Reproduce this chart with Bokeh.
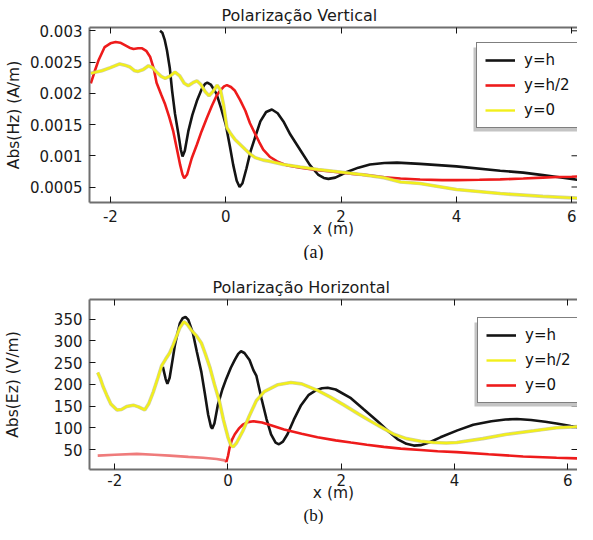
import numpy as np
from bokeh.plotting import figure
from bokeh.models import Range1d, LinearAxis, FixedTicker, Legend, LegendItem, Title, BoxAnnotation
from bokeh.layouts import column
from bokeh.embed import file_html
from bokeh.resources import INLINE

# ---------------- Panel (a): Polarização Vertical ----------------
a_title = "Polarização Vertical"
a_caption = "(a)"
a_ylabel = "Abs(Hz) (A/m)"
a_xlabel = "x (m)"
a_xticks = [-2, 0, 2, 4, 6]
a_xtick_labels = ["-2", "0", "2", "4", "6"]
a_yticks = [0.0005, 0.001, 0.0015, 0.002, 0.0025, 0.003]
a_ytick_labels = ["0.0005", "0.001", "0.0015", "0.002", "0.0025", "0.003"]
a_series = ["y=h", "y=h/2", "y=0"]

hz_h_x = [-1.14, -1.10, -1.06, -1.02, -0.97, -0.93, -0.88, -0.82, -0.78, -0.75, -0.71, -0.65,
          -0.58, -0.50, -0.42, -0.36, -0.32, -0.26, -0.16, -0.08, 0.00, 0.07, 0.13, 0.19, 0.24,
          0.29, 0.36, 0.43, 0.51, 0.60, 0.70, 0.80, 0.90, 1.00, 1.12, 1.30, 1.46, 1.60, 1.70,
          1.78, 1.90, 2.10, 2.30, 2.50, 2.75, 2.97, 3.37, 4.00, 4.76, 5.16, 5.50, 5.75, 6.00, 6.35]
hz_h_y = [0.00300, 0.00297, 0.00286, 0.00269, 0.00240, 0.00204, 0.00167, 0.00134, 0.00110,
          0.00099, 0.00108, 0.00139, 0.00165, 0.00188, 0.00206, 0.00215, 0.00217, 0.00214,
          0.00199, 0.00176, 0.00150, 0.00116, 0.00085, 0.00060, 0.00050, 0.00056, 0.00080,
          0.00107, 0.00130, 0.00155, 0.00170, 0.00174, 0.00168, 0.00155, 0.00134, 0.00108,
          0.00085, 0.00070, 0.000645, 0.00063, 0.00065, 0.00074, 0.00081, 0.00086, 0.000885,
          0.00089, 0.00087, 0.00083, 0.00076, 0.00073, 0.00069, 0.00066, 0.00063, 0.00058]

hz_h2_x = [-2.34, -2.27, -2.21, -2.10, -2.00, -1.91, -1.83, -1.75, -1.67, -1.60, -1.52, -1.45,
           -1.38, -1.31, -1.25, -1.20, -1.12, -1.05, -0.98, -0.91, -0.85, -0.79, -0.75, -0.72,
           -0.67, -0.59, -0.50, -0.42, -0.33, -0.24, -0.16, -0.10, -0.03, 0.02, 0.09, 0.16,
           0.25, 0.34, 0.42, 0.51, 0.58, 0.65, 0.77, 0.89, 1.05, 1.29, 1.60, 1.87, 2.20, 2.45,
           2.75, 3.03, 3.37, 3.75, 4.00, 4.40, 4.76, 5.16, 5.50, 5.75, 6.00, 6.35]
hz_h2_y = [0.00216, 0.00236, 0.00252, 0.00274, 0.00280, 0.00282, 0.00281, 0.00277, 0.00273,
           0.00271, 0.00272, 0.00272, 0.00268, 0.00258, 0.00240, 0.00217, 0.00198, 0.00182,
           0.00162, 0.00139, 0.00112, 0.00085, 0.00070, 0.00064, 0.00070, 0.00096, 0.00118,
           0.00139, 0.00160, 0.00180, 0.00196, 0.00204, 0.00211, 0.00213, 0.00210, 0.00204,
           0.00189, 0.00172, 0.00152, 0.00135, 0.00122, 0.00110, 0.00098, 0.00091, 0.00085,
           0.00081, 0.00077, 0.000744, 0.00071, 0.00069, 0.000655, 0.000635, 0.00062, 0.00061,
           0.00061, 0.000615, 0.000622, 0.000635, 0.00065, 0.00066, 0.000665, 0.000675]

hz_0_x = [-2.34, -2.25, -2.15, -2.00, -1.84, -1.75, -1.66, -1.58, -1.52, -1.43, -1.34, -1.27,
          -1.20, -1.12, -1.05, -0.96, -0.88, -0.80, -0.72, -0.65, -0.57, -0.50, -0.43, -0.36,
          -0.29, -0.22, -0.15, -0.09, -0.04, 0.02, 0.08, 0.16, 0.25, 0.34, 0.42, 0.51, 0.65,
          0.77, 1.00, 1.29, 1.60, 1.98, 2.35, 2.74, 3.03, 3.37, 4.00, 4.76, 5.50, 6.35]
hz_0_y = [0.00232, 0.00234, 0.00236, 0.00241, 0.00247, 0.00245, 0.00242, 0.00236, 0.00235,
          0.00238, 0.00244, 0.00241, 0.00234, 0.00227, 0.00224, 0.00228, 0.00234, 0.00228,
          0.00216, 0.00212, 0.00217, 0.00220, 0.00214, 0.00203, 0.00196, 0.00203, 0.00213,
          0.00205, 0.00182, 0.00145, 0.00136, 0.00126, 0.00118, 0.00110, 0.00103, 0.00097,
          0.00093, 0.00091, 0.00086, 0.00082, 0.00078, 0.00074, 0.00070, 0.00065, 0.00058,
          0.000556, 0.00046, 0.000395, 0.00035, 0.00031]

# ---------------- Panel (b): Polarização Horizontal ----------------
b_title = "Polarização Horizontal"
b_caption = "(b)"
b_ylabel = "Abs(Ez) (V/m)"
b_xlabel = "x (m)"
b_xticks = [-2, 0, 2, 4, 6]
b_xtick_labels = ["-2", "0", "2", "4", "6"]
b_yticks = [50, 100, 150, 200, 250, 300, 350]
b_ytick_labels = ["50", "100", "150", "200", "250", "300", "350"]
b_series = ["y=h", "y=h/2", "y=0"]

ez_h_x = [-1.15, -1.10, -1.07, -1.03, -0.98, -0.94, -0.89, -0.85, -0.80, -0.75, -0.70, -0.62,
          -0.55, -0.47, -0.41, -0.35, -0.30, -0.28, -0.24, -0.18, -0.10, -0.03, 0.05, 0.12,
          0.18, 0.23, 0.29, 0.38, 0.45, 0.50, 0.59, 0.68, 0.76, 0.84, 0.90, 0.97, 1.05, 1.16,
          1.29, 1.42, 1.55, 1.66, 1.76, 1.90, 2.17, 2.40, 2.64, 2.83, 2.99, 3.15, 3.28, 3.40,
          3.55, 3.75, 4.05, 4.33, 4.65, 4.90, 5.10, 5.35, 5.60, 5.80, 6.05, 6.33]
ez_h_y = [240, 212, 201, 215, 255, 288, 318, 340, 352, 355, 348, 318, 275, 228, 180, 130, 102,
          98, 110, 152, 188, 213, 238, 256, 270, 276, 272, 256, 232, 220, 168, 120, 85, 66, 62,
          68, 85, 118, 152, 175, 186, 191, 192, 188, 168, 142, 115, 92, 74, 63, 59, 60, 66, 78,
          94, 107, 115, 119, 120, 118, 114, 110, 104, 98]

ez_h2_x = [-2.30, -2.25, -2.20, -2.14, -2.07, -1.96, -1.88, -1.79, -1.67, -1.58, -1.47, -1.40,
           -1.32, -1.24, -1.17, -1.10, -1.03, -0.97, -0.91, -0.85, -0.78, -0.72, -0.65, -0.56,
           -0.47, -0.40, -0.32, -0.24, -0.15, -0.08, 0.00, 0.05, 0.09, 0.15, 0.26, 0.38, 0.50,
           0.64, 0.88, 1.11, 1.30, 1.58, 1.80, 2.05, 2.30, 2.52, 2.75, 2.93, 3.15, 3.40, 3.63,
           3.85, 4.04, 4.50, 4.92, 5.40, 5.80, 6.10, 6.33]
ez_h2_y = [227, 212, 193, 175, 155, 141, 142, 149, 152, 148, 141, 155, 182, 214, 243, 258, 272,
           290, 310, 330, 344, 338, 325, 312, 295, 270, 239, 200, 160, 118, 78, 60, 56, 65, 92,
           128, 162, 183, 199, 204, 201, 186, 171, 152, 132, 115, 98, 85, 75, 69, 66, 65, 66,
           75, 85, 93, 100, 102, 104]

ez_0_x = [-2.30, -2.00, -1.61, -1.30, -1.03, -0.70, -0.44, -0.20, -0.06, -0.03, 0.00, 0.03,
          0.07, 0.12, 0.19, 0.26, 0.35, 0.45, 0.60, 0.80, 0.99, 1.30, 1.58, 1.90, 2.17, 2.45,
          2.75, 3.05, 3.40, 3.70, 4.04, 4.60, 5.21, 5.80, 6.33]
ez_0_y = [36, 38, 40, 38, 36, 33, 31, 28, 25, 21, 35, 55, 72, 85, 98, 107, 113, 115, 112, 104,
          96, 86, 78, 71, 66, 61, 56, 52, 49, 46, 44, 39, 34, 31, 29]

# ---------------- styling ----------------
FONT = "DejaVu Sans"
SERIF = "Liberation Serif"
C_BLACK = "#141414"
C_RED = "#ee1b1b"
C_PINK = "#ef7b7b"
C_YELLOW = "#f2ef1c"
C_HALO = "#b9b98c"
C_SHADOW = "#c4c4c4"
FRAME = "#6f6f6f"

LEG_PAD, LEG_GW, LEG_GH, LEG_SP, LEG_ST, LEG_LW = 8, 30, 18, 7, 9, 50


def style_axis(ax):
    ax.axis_line_color = FRAME
    ax.axis_line_width = 2
    ax.major_tick_in = 6
    ax.major_tick_out = 0
    ax.major_tick_line_color = C_BLACK
    ax.major_tick_line_width = 1
    ax.minor_tick_line_color = None
    ax.minor_tick_out = 0
    ax.major_label_text_font = FONT
    ax.major_label_text_color = "#1a1a1a"
    ax.major_label_text_font_size = "15px"
    ax.axis_label_text_font = FONT
    ax.axis_label_text_font_size = "15.5px"
    ax.axis_label_text_font_style = "normal"
    ax.axis_label_text_color = "#1a1a1a"


def tick_only_axis(ticks):
    # top axis without labels: the inward ticks are drawn as minor ticks
    ax = LinearAxis(ticker=FixedTicker(ticks=[], minor_ticks=ticks))
    ax.axis_line_color = FRAME
    ax.axis_line_width = 2
    ax.major_tick_line_color = None
    ax.major_tick_in = 0
    ax.major_tick_out = 0
    ax.minor_tick_in = 6
    ax.minor_tick_out = 0
    ax.minor_tick_line_color = C_BLACK
    ax.minor_tick_line_width = 1
    ax.major_label_standoff = 0
    ax.axis_label_standoff = 0
    return ax


def make_panel(title, title_off, title_standoff, caption, cap_size, cap_standoff,
               ylabel, ylab_standoff, xlabel, tick_standoff, xlab_standoff,
               xr, yr, xt, xtl, yt, ytl, height):
    p = figure(width=577, height=height, x_range=Range1d(*xr), y_range=Range1d(*yr),
               toolbar_location=None, output_backend="svg", title=title,
               min_border=0, min_border_left=80, min_border_right=0, min_border_top=0,
               min_border_bottom=0)
    p.outline_line_color = None
    p.grid.visible = False
    p.title.align = "left"
    p.title.offset = title_off
    p.title.text_font = FONT
    p.title.text_font_size = "16px"
    p.title.text_font_style = "normal"
    p.title.text_color = "#1a1a1a"
    p.title.standoff = title_standoff

    p.xaxis.ticker = FixedTicker(ticks=xt)
    p.xaxis.major_label_overrides = dict(zip(xt, xtl))
    p.yaxis.ticker = FixedTicker(ticks=yt)
    p.yaxis.major_label_overrides = dict(zip(yt, ytl))
    for ax in p.xaxis + p.yaxis:
        style_axis(ax)
    p.xaxis.major_label_standoff = tick_standoff
    p.yaxis.major_label_standoff = 7
    p.xaxis.axis_label = xlabel
    p.yaxis.axis_label = ylabel
    p.xaxis.axis_label_standoff = xlab_standoff
    p.yaxis.axis_label_standoff = ylab_standoff

    p.add_layout(tick_only_axis(xt), "above")
    # inward ticks along the right edge (outer half of each dash is clipped by the frame)
    p.scatter(x=[xr[1]] * len(yt), y=yt, marker="dash", size=12,
              line_color=C_BLACK, line_width=1)

    cap = Title(text=caption, align="left", offset=214, text_font=SERIF,
                text_font_size=cap_size, text_font_style="normal", text_color="#111111",
                standoff=cap_standoff)
    p.add_layout(cap, "below")
    return p


def add_legend(p, labels, renderers, vx, vy):
    w = 2 * LEG_PAD + LEG_GW + LEG_ST + LEG_LW
    h = 2 * LEG_PAD + 3 * LEG_GH + 2 * LEG_SP
    p.add_layout(BoxAnnotation(left=vx - 3, right=vx - 3 + w, bottom=vy - 3, top=vy - 3 + h,
                               left_units="screen", right_units="screen",
                               bottom_units="screen", top_units="screen",
                               fill_color=C_SHADOW, fill_alpha=1.0, line_color=None))
    leg = Legend(items=[LegendItem(label=l, renderers=[r]) for l, r in zip(labels, renderers)],
                 location=(vx, vy), background_fill_color="white", background_fill_alpha=1.0,
                 border_line_color="black", border_line_width=1,
                 glyph_width=LEG_GW, glyph_height=LEG_GH, label_height=LEG_GH,
                 label_width=LEG_LW, spacing=LEG_SP, padding=LEG_PAD,
                 label_standoff=LEG_ST, label_text_font=FONT, label_text_font_size="15px",
                 label_text_color="#111111", margin=0)
    p.add_layout(leg)


# ---- panel (a)
pa = make_panel(a_title, 132, 6, a_caption, "18px", -2, a_ylabel, 4, a_xlabel, 7, -5,
                (-2.363, 6.10), (0.000252, 0.003053),
                a_xticks, a_xtick_labels, a_yticks, a_ytick_labels, 260)
ra1 = pa.line(hz_h_x, hz_h_y, line_color=C_BLACK, line_width=2.6)
ra2 = pa.line(hz_h2_x, hz_h2_y, line_color=C_RED, line_width=2.6)
pa.line(hz_0_x, hz_0_y, line_color=C_HALO, line_width=3.6, line_alpha=0.7)
ra3 = pa.line(hz_0_x, hz_0_y, line_color=C_YELLOW, line_width=2.4)
add_legend(pa, a_series, [ra1, ra2, ra3], 387, 74)

# ---- panel (b)
pb = make_panel(b_title, 123, 6, b_caption, "17px", -1, b_ylabel, 29, b_xlabel, 4, -5,
                (-2.445, 6.17), (4, 395),
                b_xticks, b_xtick_labels, b_yticks, b_ytick_labels, 252)
rb1 = pb.line(ez_h_x, ez_h_y, line_color=C_BLACK, line_width=2.6)
ex = np.array(ez_0_x)
ey = np.array(ez_0_y)
neg = ex <= -0.03
pos = ex >= -0.03
pb.line(ex[neg], ey[neg], line_color=C_PINK, line_width=2.6)
rb3 = pb.line(ex[pos], ey[pos], line_color=C_RED, line_width=2.6)
pb.line(ez_h2_x, ez_h2_y, line_color=C_HALO, line_width=3.6, line_alpha=0.7)
rb2 = pb.line(ez_h2_x, ez_h2_y, line_color=C_YELLOW, line_width=2.4)
add_legend(pb, b_series, [rb1, rb2, rb3], 388, 66)

layout = column(pa, pb, spacing=12)
open("out.html", "w").write(file_html(layout, INLINE))
